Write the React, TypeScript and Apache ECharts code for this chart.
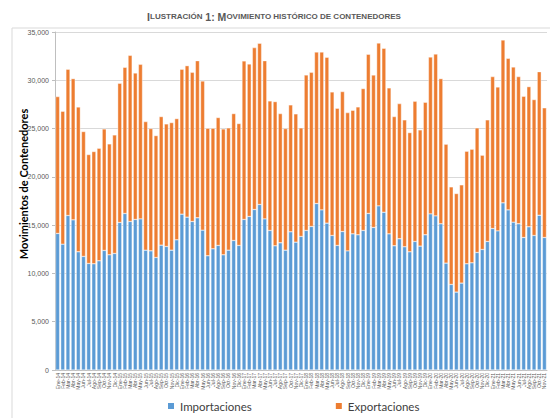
import React, { useEffect, useRef } from "react";
import * as echarts from "echarts";

const monthNames = ["Ene", "Feb", "Mar", "Abr", "May", "Jun", "Jul", "Ago", "Sep", "Oct", "Nov", "Dic"];
const years = ["14", "15", "16", "17", "18", "19", "20", "21"];
const barCount = 95;

const importaciones = [
  14140, 13030, 16000, 15550, 12240, 11760, 11030, 11000, 11310, 12380, 11930, 12070,
  15280, 16210, 15380, 15590, 15650, 12410, 12340, 11650, 12930, 12790, 12410, 13480,
  16140, 15830, 15380, 15760, 14480, 11830, 12550, 12900, 11930, 12410, 13410, 12900,
  15590, 15900, 16620, 17140, 15650, 14450, 12860, 13170, 12410, 14310, 13240, 13830,
  14450, 14860, 17240, 16580, 15210, 13930, 12900, 14340, 12340, 14100, 14000, 14450,
  16210, 14760, 17000, 16340, 14100, 12860, 13590, 12760, 12240, 13310, 12830, 14000,
  16170, 15960, 15140, 11070, 8860, 8070, 9000, 11000, 11100, 12170, 12480, 13310,
  14650, 14410, 17310, 16580, 15310, 15140, 13720, 14830, 13930, 16030, 13720,
];

const totales = [
  28310, 26790, 31140, 30170, 27240, 24690, 22310, 22620, 22960, 24960, 23410, 24340,
  29690, 31340, 32580, 30760, 31650, 25720, 25000, 24270, 26240, 25480, 25620, 26030,
  31140, 31510, 30820, 32030, 29930, 25030, 25030, 26140, 24960, 25070, 26550, 25520,
  32000, 31690, 33380, 33830, 32030, 27860, 27790, 26550, 25000, 27450, 26520, 25070,
  30550, 30820, 32930, 32930, 32380, 28790, 27100, 28830, 26650, 26890, 27240, 29140,
  32690, 30550, 33860, 33310, 29210, 26240, 27580, 25900, 24580, 27830, 24860, 27720,
  32410, 32720, 30170, 23380, 18960, 18270, 19170, 22650, 22860, 25070, 22240, 25900,
  30380, 29310, 34170, 32270, 31380, 30380, 28340, 29340, 28000, 30890, 27140,
];

const exportaciones = totales.map((t, i) => t - importaciones[i]);

const categorias: string[] = [];
for (let i = 0; i < barCount; i++) {
  categorias.push(monthNames[i % 12] + "-" + years[Math.floor(i / 12)]);
}

const yTicks = [0, 5000, 10000, 15000, 20000, 25000, 30000, 35000];

export default function App() {
  const ref = useRef<HTMLDivElement>(null);
  useEffect(() => {
    if (!ref.current) return;
    const chart = echarts.init(ref.current, undefined, { renderer: "svg" });
    chart.setOption({
      animation: false,
      backgroundColor: "#ffffff",
      title: {
        text:
          "{a|I}{b|LUSTRACIÓN}{a| 1: M}{b|OVIMIENTO HISTÓRICO DE CONTENEDORES}",
        left: 269,
        top: 6,
        textAlign: "center",
        textStyle: {
          rich: {
            a: { fontSize: 10.5, fontWeight: "bold", color: "#595959", fontFamily: "Liberation Sans" },
            b: { fontSize: 8, fontWeight: "bold", color: "#595959", fontFamily: "Liberation Sans" },
          },
        },
      },
      graphic: [
        {
          type: "rect",
          shape: { x: 12, y: 28, width: 545, height: 400 },
          style: { fill: "none", stroke: "#d9d9d9", lineWidth: 1 },
          silent: true,
        },
        {
          type: "text",
          x: 23,
          y: 184,
          rotation: Math.PI / 2,
          style: {
            text: "Movimientos de Contenedores",
            fontSize: 11,
            fontWeight: "bold",
            fontFamily: "Lato",
            fill: "#000000",
            align: "center",
            verticalAlign: "middle",
          },
        },
      ],
      legend: {
        top: 400,
        left: 166,
        padding: 0,
        itemGap: 82,
        itemWidth: 8,
        itemHeight: 8,
        icon: "rect",
        textStyle: { fontSize: 11.5, color: "#404040", fontFamily: "Lato" },
        data: ["Importaciones", "Exportaciones"],
      },
      grid: { left: 55, right: 3, top: 32, bottom: 48, containLabel: false },
      xAxis: {
        type: "category",
        data: categorias,
        axisLine: { lineStyle: { color: "#bfbfbf" } },
        axisTick: { show: false },
        axisLabel: {
          interval: 0,
          rotate: 90,
          fontSize: 5,
          color: "#595959",
          margin: 3,
          fontFamily: "Liberation Sans",
        },
      },
      yAxis: {
        type: "value",
        min: 0,
        max: 35000,
        interval: 5000,
        axisLine: { show: true, lineStyle: { color: "#bfbfbf" } },
        axisTick: { show: true, length: 3, lineStyle: { color: "#bfbfbf" } },
        splitLine: { lineStyle: { color: "#d9d9d9" } },
        axisLabel: {
          fontSize: 7,
          color: "#595959",
          margin: 6,
          fontFamily: "Liberation Sans",
          formatter: (v: number) => (yTicks.includes(v) ? v.toLocaleString("en-US") : ""),
        },
      },
      series: [
        {
          name: "Importaciones",
          type: "bar",
          stack: "total",
          data: importaciones,
          barCategoryGap: "22%",
          itemStyle: { color: "#5B9BD5", borderColor: "#ffffff", borderWidth: 0.4 },
        },
        {
          name: "Exportaciones",
          type: "bar",
          stack: "total",
          data: exportaciones,
          barCategoryGap: "22%",
          itemStyle: { color: "#ED7D31", borderColor: "#ffffff", borderWidth: 0.4 },
        },
      ],
    });
    return () => chart.dispose();
  }, []);
  return (
    <div
      ref={ref}
      style={{ position: "fixed", left: 0, top: 0, width: 550, height: 418 }}
    />
  );
}
